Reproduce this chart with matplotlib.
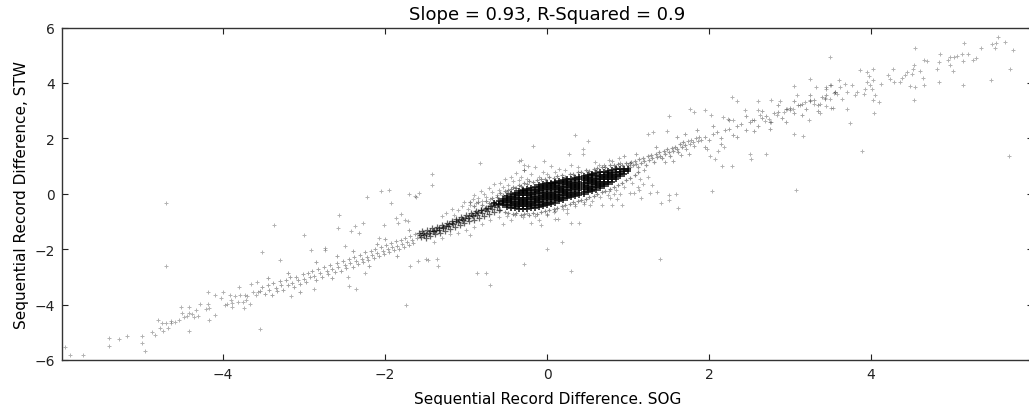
import numpy as np
import matplotlib
matplotlib.use('Agg')
import matplotlib.pyplot as plt

# --- values (SOG diff, STW diff) ---
tail_left = [
    (-5.95, -5.53), (-5.89, -5.81), (-5.73, -5.81), (-5.41, -5.20), (-5.41, -5.49), (-5.29, -5.26),
    (-5.19, -5.15), (-5.00, -5.13), (-5.00, -5.37), (-4.96, -5.67), (-4.88, -4.99), (-4.84, -5.10),
    (-4.80, -4.57), (-4.78, -4.83), (-4.75, -4.68), (-4.74, -4.97), (-4.70, -4.68), (-4.68, -4.84),
    (-4.65, -4.66), (-4.64, -4.61), (-4.59, -4.63), (-4.55, -4.54), (-4.52, -4.08), (-4.51, -4.31),
    (-4.48, -4.45), (-4.45, -4.42), (-4.42, -4.10), (-4.42, -4.96), (-4.42, -4.32), (-4.38, -4.33),
    (-4.36, -4.45), (-4.33, -4.20), (-4.31, -4.42), (-4.28, -3.97), (-4.21, -4.15), (-4.19, -3.55),
    (-4.19, -3.97), (-4.18, -4.12), (-4.18, -4.56), (-4.10, -3.65), (-4.10, -4.39), (-4.03, -3.77),
    (-4.00, -3.55), (-3.98, -4.03), (-3.95, -3.98), (-3.91, -3.67), (-3.90, -3.82), (-3.89, -3.94),
    (-3.89, -4.07), (-3.85, -3.69), (-3.82, -3.89), (-3.80, -3.36), (-3.79, -3.67), (-3.75, -3.89),
    (-3.74, -4.12), (-3.73, -3.67), (-3.72, -3.85), (-3.70, -3.68), (-3.67, -3.97), (-3.66, -3.24),
    (-3.63, -3.53), (-3.60, -3.67), (-3.58, -3.19), (-3.57, -3.55), (-3.55, -4.87),
    (-4.70, -0.32), (-4.71, -2.61),
]

outliers = [
    (-3.52, -2.11), (-3.37, -1.11), (-2.57, -0.75), (-1.74, -4.03), (-0.70, -3.31), (-0.87, -2.85),
    (-0.76, -2.85), (-3.30, -2.39), (-3.00, -1.48), (-2.91, -2.03), (-2.74, -1.94), (-2.74, -2.03),
    (-2.58, -1.22), (-2.49, -1.89), (-2.42, -1.36), (-2.37, -1.16), (-2.32, -1.42), (-2.27, -1.05),
    (-2.23, -0.12), (-2.05, 0.11), (-1.95, 0.14), (-1.93, -0.34), (-1.71, -0.01), (-1.62, -0.12),
    (-1.58, 0.01), (-1.42, 0.71), (-1.42, 0.32), (-1.80, -0.73), (-1.87, -0.88), (-1.76, -0.95),
    (-1.72, -1.00), (-1.84, -1.05), (-2.02, -1.14), (-2.08, -1.60), (-1.69, -2.61), (-1.60, -2.44),
    (-1.50, -2.35), (-1.36, -2.35), (-2.46, -3.02), (-2.45, -3.33), (-2.36, -3.43), (-2.88, -3.45),
    (-3.16, -3.68), (-2.25, -2.86), (-1.35, -2.59), (-1.47, -2.39), (-0.83, 1.12), (-1.63, -0.08),
    (0.35, 2.13), (-0.17, 1.72), (0.44, 1.62), (0.44, 1.44), (0.27, 1.44), (0.50, 1.92),
    (-0.04, 1.20), (-0.35, 1.20), (-0.24, 0.99), (-0.28, 0.84), (0.89, 1.29), (0.77, 1.22),
    (0.59, 1.14), (0.64, 1.02), (1.48, 2.25), (1.25, 2.17), (1.31, 2.23), (-0.32, 1.21), (-0.28, 1.05),
    (1.51, -0.06), (1.51, -0.24), (1.62, -0.52), (1.30, 0.30), (1.18, 0.36), (1.36, 0.06),
    (1.12, 0.24), (0.76, 0.10), (0.83, 0.00), (1.59, -0.02), (1.41, -0.35), (1.27, 0.01),
    (1.16, -0.16), (1.39, -2.35), (0.30, -2.80), (0.19, -1.74), (0.00, -1.99), (0.30, -1.07),
    (0.39, -1.05), (-0.07, -1.14), (-0.28, -2.55), (0.92, -0.39), (0.80, -0.42), (0.68, -0.42),
    (0.53, -0.42), (0.45, -0.36), (0.35, -0.36), (0.24, -0.54), (0.14, -0.90), (0.08, -0.66),
    (0.00, -0.72), (0.90, 0.00), (1.02, 0.04), (1.07, 0.04), (1.13, 0.12), (0.78, -0.16),
    (0.86, -0.18), (2.04, 0.10), (3.07, 0.14), (3.89, 1.56), (3.74, 2.56), (5.70, 1.38),
    (2.51, 1.44), (2.52, 1.24), (2.70, 1.44), (2.16, 1.00), (2.28, 1.00), (2.01, 1.38),
    (2.07, 1.26), (2.11, 1.56), (2.18, 1.69), (1.97, 1.62), (3.16, 2.07), (3.05, 2.17),
    (1.77, 3.07), (1.81, 2.95), (1.95, 3.03), (1.50, 2.81), (2.28, 3.49), (2.35, 3.33),
]

tail_right = [
    (2.61, 3.33), (2.77, 3.37), (2.88, 3.35), (3.05, 3.89), (3.25, 4.15), (3.32, 3.85),
    (3.44, 3.85), (3.49, 3.91), (3.55, 3.67), (3.58, 3.61), (3.08, 3.56), (2.44, 3.04),
    (2.60, 3.04), (3.12, 3.19), (3.19, 3.31), (3.25, 3.37), (3.30, 3.24), (3.37, 3.25),
    (3.43, 3.45), (3.51, 3.09), (3.24, 2.67), (3.37, 2.92), (2.02, 2.85), (2.17, 2.77),
    (2.24, 2.71), (2.30, 2.67), (2.53, 2.65), (2.63, 2.85), (2.69, 2.61), (2.74, 2.71),
    (2.77, 2.59), (2.84, 2.83), (2.92, 2.95), (2.96, 3.07), (3.00, 3.01), (3.04, 3.07),
    (5.57, 5.66), (5.65, 5.48), (5.75, 5.17), (5.71, 4.49), (5.49, 5.42), (5.53, 5.27),
    (5.54, 5.45), (5.36, 5.27), (5.48, 4.09), (5.15, 5.44), (5.20, 5.04), (5.12, 5.03),
    (5.06, 4.96), (5.02, 4.94), (4.98, 4.94), (4.95, 4.81), (4.85, 5.05), (4.84, 4.74),
    (5.30, 4.90), (5.26, 4.81), (5.13, 4.78), (4.98, 4.64), (5.01, 4.43), (4.81, 4.49),
    (5.13, 3.94), (4.84, 4.05), (4.54, 5.26), (4.65, 4.81), (4.69, 4.78), (4.53, 4.64),
    (4.52, 4.49), (4.44, 4.40), (4.60, 4.42), (4.50, 4.33), (4.42, 4.27), (4.38, 4.18),
    (4.36, 4.05), (4.27, 4.51), (4.21, 4.27), (4.23, 4.15), (4.28, 4.03), (4.64, 4.18),
    (4.65, 3.91), (4.54, 3.85), (4.48, 3.89), (4.53, 3.37), (4.12, 3.97), (4.02, 4.49),
    (3.95, 4.39), (3.86, 4.45), (3.97, 4.25), (4.03, 4.09), (3.95, 4.03), (3.99, 3.91),
    (3.93, 3.79), (4.01, 3.79), (3.91, 3.61), (4.05, 3.57), (4.03, 3.37), (4.10, 3.31),
    (4.04, 2.91), (3.83, 3.69), (3.76, 3.94), (3.70, 3.67), (3.68, 3.97), (3.62, 3.85),
    (3.60, 4.09), (3.56, 3.67), (3.54, 3.65), (3.51, 3.91), (3.49, 3.43), (3.45, 3.79),
    (3.43, 3.43), (3.44, 3.15), (3.53, 3.09), (3.70, 3.07), (3.64, 3.43), (3.80, 3.57),
    (3.49, 4.94),
]

band_left = [
    (-3.55, -3.50), (-3.52, -3.38), (-3.48, -3.61), (-3.45, -3.30), (-3.43, -3.46), (-3.40, -3.64),
    (-3.38, -3.22), (-3.35, -3.40), (-3.33, -3.52), (-3.30, -3.16), (-3.28, -3.31), (-3.26, -3.47),
    (-3.22, -3.12), (-3.20, -3.29), (-3.18, -3.02), (-3.15, -3.21), (-3.12, -3.38), (-3.10, -2.99),
    (-3.08, -3.13), (-3.05, -3.27), (-3.02, -2.90), (-3.00, -3.06), (-2.98, -3.18), (-2.95, -2.86),
    (-2.93, -2.99), (-2.90, -2.78), (-2.88, -2.96), (-2.85, -3.10), (-2.83, -2.70), (-2.80, -2.87),
    (-2.78, -2.99), (-2.75, -2.63), (-2.72, -2.79), (-2.70, -2.91), (-2.68, -2.57), (-2.65, -2.71),
    (-2.62, -2.84), (-2.60, -2.50), (-2.58, -2.63), (-2.55, -2.78), (-2.52, -2.42), (-2.50, -2.57),
    (-2.48, -2.69), (-2.45, -2.36), (-2.43, -2.49), (-2.40, -2.63), (-2.38, -2.28), (-2.36, -2.43),
    (-2.33, -2.55), (-2.31, -2.20), (-2.29, -2.36), (-2.27, -2.47), (-2.25, -2.12), (-2.23, -2.27),
    (-2.21, -2.40), (-2.18, -2.06), (-2.16, -2.21), (-2.14, -2.33), (-2.12, -1.99), (-2.10, -2.13),
    (-2.08, -2.26), (-2.05, -1.93), (-2.03, -2.07), (-2.01, -2.18), (-1.99, -1.85), (-1.97, -1.99),
    (-1.95, -2.12), (-1.93, -1.79), (-1.91, -1.93), (-1.89, -2.04), (-1.87, -1.72), (-1.85, -1.87),
    (-1.83, -1.98), (-1.81, -1.66), (-1.79, -1.81), (-1.77, -1.92), (-1.75, -1.59), (-1.73, -1.74),
    (-1.71, -1.86), (-1.69, -1.53), (-1.67, -1.67), (-1.65, -1.78), (-1.63, -1.47), (-1.61, -1.61),
    (-3.20, -2.85), (-3.05, -3.55), (-2.85, -2.45), (-2.65, -3.05), (-2.40, -2.05), (-2.20, -2.62),
    (-2.00, -1.65), (-1.85, -2.25), (-1.70, -1.30), (-3.45, -3.05), (-2.60, -2.25), (-2.10, -1.80),
]

band_dense = [
    (-1.58, -1.42), (-1.56, -1.55), (-1.54, -1.35), (-1.52, -1.48), (-1.50, -1.60), (-1.48, -1.30),
    (-1.46, -1.42), (-1.44, -1.52), (-1.42, -1.25), (-1.40, -1.36), (-1.38, -1.47), (-1.36, -1.20),
    (-1.34, -1.30), (-1.32, -1.40), (-1.30, -1.12), (-1.28, -1.24), (-1.26, -1.35), (-1.24, -1.05),
    (-1.22, -1.17), (-1.20, -1.28), (-1.18, -0.98), (-1.16, -1.10), (-1.14, -1.21), (-1.12, -0.92),
    (-1.10, -1.03), (-1.08, -1.14), (-1.06, -0.85), (-1.04, -0.96), (-1.02, -1.07), (-1.00, -0.78),
    (-0.98, -0.89), (-0.96, -1.00), (-0.94, -0.71), (-0.92, -0.82), (-0.90, -0.93), (-0.88, -0.64),
    (-0.86, -0.75), (-0.84, -0.86), (-0.82, -0.57), (-0.80, -0.68), (-0.78, -0.79), (-0.76, -0.50),
    (-0.74, -0.61), (-0.72, -0.72), (-0.70, -0.43), (-0.68, -0.54), (-0.66, -0.65), (-0.64, -0.37),
    (-0.62, -0.48), (-0.60, -0.58), (-1.57, -1.50), (-1.53, -1.40), (-1.49, -1.45), (-1.45, -1.36),
    (-1.41, -1.33), (-1.37, -1.30), (-1.33, -1.22), (-1.29, -1.20), (-1.25, -1.15), (-1.21, -1.10),
    (-1.17, -1.06), (-1.13, -1.00), (-1.09, -0.95), (-1.05, -0.90), (-1.01, -0.86), (-0.97, -0.80),
    (-0.93, -0.76), (-0.89, -0.70), (-0.85, -0.66), (-0.81, -0.60), (-0.77, -0.56), (-0.73, -0.50),
    (-0.69, -0.46), (-0.65, -0.42), (-0.61, -0.36),
]

band_mid = [
    (1.00, 1.05), (1.02, 0.95), (1.04, 1.15), (1.06, 1.02), (1.08, 1.20), (1.10, 1.08),
    (1.12, 0.98), (1.14, 1.25), (1.16, 1.12), (1.18, 1.30), (1.20, 1.18), (1.22, 1.05),
    (1.24, 1.35), (1.26, 1.22), (1.28, 1.40), (1.30, 1.28), (1.32, 1.15), (1.34, 1.45),
    (1.36, 1.33), (1.38, 1.50), (1.40, 1.38), (1.42, 1.28), (1.44, 1.55), (1.46, 1.45),
    (1.48, 1.60), (1.50, 1.50), (1.52, 1.38), (1.54, 1.65), (1.56, 1.55), (1.58, 1.70),
    (1.60, 1.62), (1.62, 1.50), (1.64, 1.78), (1.66, 1.68), (1.68, 1.85), (1.70, 1.75),
]

band_right = [
    (1.72, 1.62), (1.74, 1.90), (1.76, 1.80), (1.78, 1.95), (1.80, 1.85), (1.82, 1.72),
    (1.84, 2.00), (1.86, 1.90), (1.88, 2.05), (1.90, 1.95), (1.95, 2.05), (2.00, 1.95),
    (2.05, 2.15), (2.10, 2.22), (2.15, 2.00), (2.20, 2.30), (2.25, 2.35), (2.30, 2.12),
    (2.35, 2.45), (2.40, 2.50), (2.45, 2.30), (2.50, 2.60), (2.55, 2.65), (2.60, 2.45),
    (2.65, 2.72), (2.70, 2.80), (2.75, 2.60), (2.80, 2.90), (2.85, 2.95), (2.90, 2.75),
    (2.95, 3.05), (3.00, 3.10), (3.05, 2.90), (3.10, 3.20), (3.15, 3.25), (3.20, 3.05),
    (3.25, 3.35), (3.30, 3.40), (3.35, 3.20), (3.40, 3.50), (3.45, 3.55), (1.55, 1.20),
    (1.60, 2.05), (1.70, 2.15), (1.75, 1.45), (1.85, 2.30), (1.95, 1.70), (2.05, 2.45),
    (2.15, 1.80), (2.25, 2.65), (2.35, 2.05), (2.45, 2.80), (2.55, 2.25), (2.65, 3.00),
    (2.75, 2.35), (2.85, 3.20), (2.95, 2.60), (3.05, 3.35), (3.15, 2.85), (3.25, 3.55),
    (3.35, 3.00), (0.70, 1.05), (0.80, 1.20), (0.90, 1.10), (0.95, 1.35), (0.85, 0.95),
    (0.75, 0.80), (1.10, 1.45), (1.20, 0.85), (1.35, 1.70), (1.45, 1.15), (1.65, 1.40),
]

halo = [
    (-1.30, -0.80), (-1.25, -0.70), (-1.18, -0.55), (-1.15, -0.75), (-1.10, -0.60), (-1.05, -0.45),
    (-1.02, -0.30), (-0.98, -0.55), (-0.95, -0.40), (-0.92, -0.20), (-0.90, -0.05), (-0.88, -0.35),
    (-0.85, -0.15), (-0.82, 0.10), (-0.80, -0.25), (-0.78, 0.00), (-0.75, -0.10), (-0.72, 0.20),
    (-0.70, -0.20), (-0.68, 0.05), (-0.65, 0.35), (-0.62, -0.05), (-0.60, 0.15), (-0.58, 0.40),
    (-0.55, 0.25), (-0.52, 0.55), (-0.50, 0.05), (-0.48, 0.30), (-0.45, 0.62), (-0.42, 0.45),
    (-0.40, 0.20), (-0.38, 0.75), (-0.35, 0.50), (-0.32, 0.62), (-0.28, 0.85), (-0.25, 0.55),
    (-0.20, 0.70), (-0.15, 0.95), (-0.10, 0.62), (-0.05, 0.80), (0.00, 0.70), (0.05, 1.00),
    (0.10, 0.78), (0.15, 0.90), (0.22, 0.85), (0.30, 1.05), (0.38, 0.95),
    (-1.40, -1.75), (-1.30, -1.60), (-1.20, -1.45), (-1.10, -1.40), (-1.00, -1.30), (-0.90, -1.20),
    (-0.80, -1.10), (-0.70, -0.95), (-0.60, -0.85), (-0.50, -0.80), (-0.45, -0.95), (-0.40, -0.75),
    (-0.30, -0.85), (-0.25, -0.70), (-0.15, -0.80), (-0.10, -0.95), (0.00, -0.75), (0.10, -0.62),
    (0.20, -0.55), (0.25, -0.70), (0.35, -0.45), (0.45, -0.30), (0.55, -0.25), (0.65, -0.10),
    (0.75, -0.05), (0.85, 0.15), (0.95, 0.25), (1.05, 0.40), (1.15, 0.55), (1.25, 0.60),
    (-0.95, -1.50), (-0.55, -1.10), (-0.20, -1.05), (0.10, -0.90),
]

# points crowding the rim of the dense blob
rim = [
    (-0.95, -0.30), (-0.90, -0.45), (-0.85, -0.30), (-0.80, -0.40), (-0.75, -0.25), (-0.72, -0.35),
    (-0.68, -0.15), (-0.66, -0.28), (-0.62, -0.10), (-0.58, 0.02), (-0.55, -0.05), (-0.52, 0.10),
    (-0.48, 0.12), (-0.45, 0.18), (-0.42, 0.25), (-0.38, 0.22), (-0.35, 0.32), (-0.32, 0.28),
    (-0.28, 0.40), (-0.25, 0.35), (-0.22, 0.45), (-0.18, 0.42), (-0.12, 0.50), (-0.08, 0.55),
    (-0.02, 0.52), (0.02, 0.60), (0.08, 0.58), (0.12, 0.65), (0.18, 0.68), (0.22, 0.62),
    (0.28, 0.72), (0.32, 0.70), (0.38, 0.78), (0.42, 0.80), (0.48, 0.85), (0.52, 0.82),
    (0.58, 0.90), (0.62, 0.92), (0.68, 0.98), (0.72, 0.95), (0.78, 1.02), (0.82, 1.05),
    (0.88, 1.08), (0.92, 1.02), (0.98, 1.12), (1.02, 1.10),
    (-0.58, -0.58), (-0.52, -0.65), (-0.48, -0.70), (-0.42, -0.72), (-0.38, -0.68), (-0.32, -0.75),
    (-0.28, -0.72), (-0.22, -0.75), (-0.18, -0.70), (-0.12, -0.72), (-0.08, -0.65), (-0.02, -0.62),
    (0.02, -0.58), (0.08, -0.55), (0.12, -0.50), (0.18, -0.45), (0.22, -0.40), (0.28, -0.36),
    (0.32, -0.30), (0.38, -0.25), (0.42, -0.22), (0.48, -0.18), (0.52, -0.12), (0.58, -0.08),
    (0.62, -0.02), (0.68, 0.05), (0.72, 0.10), (0.78, 0.18), (0.82, 0.25), (0.88, 0.32),
    (0.92, 0.40), (0.98, 0.50), (1.02, 0.58), (1.08, 0.68), (1.12, 0.80),
]

# the saturated blob around the origin, column by column
core_x = [-0.65, -0.60, -0.55, -0.50, -0.45, -0.40, -0.35, -0.30, -0.25, -0.20, -0.15, -0.10,
          -0.05, 0.00, 0.05, 0.10, 0.15, 0.20, 0.25, 0.30, 0.35, 0.40, 0.45, 0.50, 0.55,
          0.60, 0.65, 0.70, 0.75, 0.80, 0.85, 0.90, 0.95, 1.00]
core_y = [
    [-0.33],
    [-0.36, -0.26],
    [-0.42, -0.34, -0.26, -0.18],
    [-0.47, -0.39, -0.31, -0.23, -0.15, -0.08],
    [-0.50, -0.42, -0.34, -0.26, -0.18, -0.10, -0.02],
    [-0.52, -0.44, -0.36, -0.28, -0.20, -0.12, -0.04, 0.04],
    [-0.54, -0.46, -0.38, -0.30, -0.22, -0.14, -0.06, 0.02, 0.10],
    [-0.54, -0.46, -0.38, -0.30, -0.22, -0.14, -0.06, 0.02, 0.10, 0.14],
    [-0.54, -0.46, -0.38, -0.30, -0.22, -0.14, -0.06, 0.02, 0.10, 0.18],
    [-0.52, -0.44, -0.36, -0.28, -0.20, -0.12, -0.04, 0.04, 0.12, 0.22],
    [-0.50, -0.42, -0.34, -0.26, -0.18, -0.10, -0.02, 0.06, 0.14, 0.26],
    [-0.47, -0.39, -0.31, -0.23, -0.15, -0.07, 0.01, 0.09, 0.17, 0.25, 0.30],
    [-0.44, -0.36, -0.28, -0.20, -0.12, -0.04, 0.04, 0.12, 0.20, 0.28, 0.34],
    [-0.40, -0.32, -0.24, -0.16, -0.08, 0.00, 0.08, 0.16, 0.24, 0.32, 0.37],
    [-0.36, -0.28, -0.20, -0.12, -0.04, 0.04, 0.12, 0.20, 0.28, 0.36, 0.40],
    [-0.32, -0.24, -0.16, -0.08, 0.00, 0.08, 0.16, 0.24, 0.32, 0.40, 0.44],
    [-0.27, -0.19, -0.11, -0.03, 0.05, 0.13, 0.21, 0.29, 0.37, 0.47],
    [-0.22, -0.14, -0.06, 0.02, 0.10, 0.18, 0.26, 0.34, 0.42, 0.50],
    [-0.17, -0.09, -0.01, 0.07, 0.15, 0.23, 0.31, 0.39, 0.47, 0.52],
    [-0.12, -0.04, 0.04, 0.12, 0.20, 0.28, 0.36, 0.44, 0.55],
    [-0.08, 0.00, 0.08, 0.16, 0.24, 0.32, 0.40, 0.48, 0.58],
    [-0.04, 0.04, 0.12, 0.20, 0.28, 0.36, 0.44, 0.52, 0.60],
    [0.00, 0.08, 0.16, 0.24, 0.32, 0.40, 0.48, 0.56, 0.64],
    [0.05, 0.13, 0.21, 0.29, 0.37, 0.45, 0.53, 0.61, 0.67],
    [0.10, 0.18, 0.26, 0.34, 0.42, 0.50, 0.58, 0.66, 0.70],
    [0.15, 0.23, 0.31, 0.39, 0.47, 0.55, 0.63, 0.74],
    [0.20, 0.28, 0.36, 0.44, 0.52, 0.60, 0.68, 0.77],
    [0.28, 0.36, 0.44, 0.52, 0.60, 0.68, 0.80],
    [0.36, 0.44, 0.52, 0.60, 0.68, 0.76, 0.83],
    [0.44, 0.52, 0.60, 0.68, 0.76, 0.86],
    [0.53, 0.61, 0.69, 0.77, 0.88],
    [0.63, 0.71, 0.79, 0.89],
    [0.73, 0.81, 0.90],
    [0.83, 0.90],
]

title = 'Slope = 0.93, R-Squared = 0.9'
xlabel = 'Sequential Record Difference. SOG'
ylabel = 'Sequential Record Difference, STW'
xticks = [-4, -2, 0, 2, 4]
yticks = [-6, -4, -2, 0, 2, 4, 6]

plt.rcParams['font.family'] = ['DejaVu Sans']

fig = plt.figure(figsize=(10.29, 4.06), dpi=100, facecolor='white')
ax = fig.add_axes([62 / 1029, 45 / 406, 971 / 1029, 332.5 / 406])


def _xy(pts):
    a = np.array(pts)
    return a[:, 0], a[:, 1]


core = [(cx, cy) for cx, ys in zip(core_x, core_y) for cy in ys]

for pts, s, a, lw in [(core, 22, 0.85, 1.2), (band_dense, 14, 0.6, 0.9),
                      (band_mid, 12, 0.4, 0.8), (rim, 12, 0.45, 0.8),
                      (band_left, 10, 0.35, 0.7), (band_right, 10, 0.35, 0.7),
                      (halo, 10, 0.3, 0.7), (tail_left, 10, 0.3, 0.7),
                      (tail_right, 10, 0.3, 0.7), (outliers, 10, 0.3, 0.7)]:
    x, y = _xy(pts)
    ax.scatter(x, y, marker='+', s=s, c='k', alpha=a, linewidths=lw)

ax.set_xlim(-5.99, 6.0)
ax.set_ylim(-6, 6)
ax.set_xticks(xticks)
ax.set_yticks(yticks)
ax.tick_params(direction='in', top=True, right=True, length=4, width=0.8,
               labelsize=10, pad=5, colors='#222')
for sp in ax.spines.values():
    sp.set_linewidth(1.0)
    sp.set_color('#333')
ax.set_title(title, fontsize=13, pad=6)
ax.set_xlabel(xlabel, fontsize=11, labelpad=7)
ax.set_ylabel(ylabel, fontsize=11, labelpad=4)

fig.savefig('out.png', dpi=100, facecolor='white')
